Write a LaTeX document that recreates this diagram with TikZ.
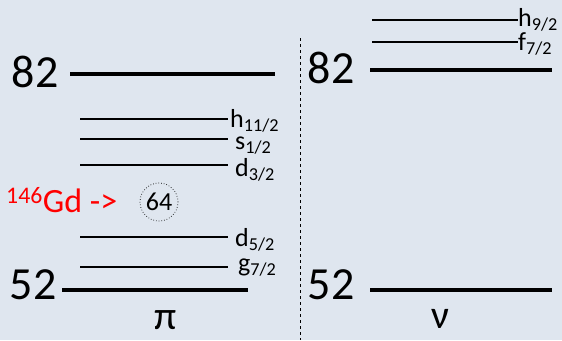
\documentclass[tikz,border=0pt]{standalone}
\usepackage{fontspec}
\setmainfont{Carlito}
\definecolor{bg}{HTML}{DFE6EF}
\begin{document}
\begin{tikzpicture}[x=1pt,y=-1pt,
  thick level/.style={line width=4pt},
  thin level/.style={line width=1.2pt},
  magic/.style={font=\fontsize{46}{46}\selectfont, inner sep=0pt},
  orb/.style={font=\fontsize{26}{26}\selectfont, inner sep=0pt, anchor=west},
  greek/.style={font=\fontsize{40}{40}\selectfont, inner sep=0pt}]
\fill[bg] (0,0) rectangle (562,340);
\useasboundingbox (0,0) rectangle (562,340);
% left (pi)
\node[magic] (l82) at (35,72) {82};
\draw[thick level] (70,74) coordinate (l82a) -- (275,74) coordinate (l82b);
\node[magic] (l52) at (33,285) {52};
\draw[thick level] (62,290) coordinate (l52a) -- (248,290) coordinate (l52b);
\foreach \y in {119,139,165,237,267}{
  \draw[thin level] (80,\y) -- (228,\y);
}
\node[orb] (h11) at (230,121) {h\textsubscript{11/2}};
\node[orb] (s12) at (235,146) {s\textsubscript{1/2}};
\node[orb] (d32) at (235,170) {d\textsubscript{3/2}};
\node[orb] (d52) at (235,240) {d\textsubscript{5/2}};
\node[orb] (g72) at (238,268) {g\textsubscript{7/2}};
\node[greek] (pi) at (166,320) {π};
% divider
\draw[dashed, line width=1pt] (300,38) coordinate (dtop) -- (300,340) coordinate (dbot);
% right (nu)
\node[magic] (r82) at (331,68) {82};
\draw[thick level] (370,70) coordinate (r82a) -- (552,70) coordinate (r82b);
\draw[thin level] (372,20) -- (518,20);
\draw[thin level] (372,42) -- (518,42);
\node[orb] (h92) at (518,20) {h\textsubscript{9/2}};
\node[orb] (f72) at (518,44) {f\textsubscript{7/2}};
\node[magic] (r52) at (331,285) {52};
\draw[thick level] (370,290) coordinate (r52a) -- (552,290) coordinate (r52b);
\node[greek] (nu) at (440,319) {ν};
% Gd
\node[text=red, font=\fontsize{34}{34}\selectfont, inner sep=0pt, anchor=west] (gd) at (6,200) {\textsuperscript{146}Gd ->};
\node[draw, dotted, line width=0.7pt, circle, minimum size=38pt, inner sep=0pt, font=\fontsize{26}{26}\selectfont] (c64) at (159,202) {64};
\end{tikzpicture}
\end{document}
